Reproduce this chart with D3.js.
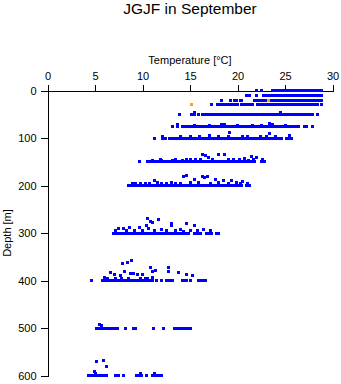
<!DOCTYPE html>
<html><head><meta charset="utf-8">
<script src="https://cdn.jsdelivr.net/npm/d3@7"></script>
<style>
body{margin:0;background:#fff}
svg{display:block}
text{font-family:"Liberation Sans",Arial,Helvetica,sans-serif;fill:#000}
</style>
</head><body><svg id="c" width="341" height="384"></svg>
<script>
const chartTitle = "JGJF in September";
const xLabel = "Temperature [°C]";
const yLabel = "Depth [m]";
const tempTicks = [0, 5, 10, 15, 20, 25, 30];
const depthTicks = [0, 100, 200, 300, 400, 500, 600];

// dense runs of observations: [depth, tMin, tMax]
const denseRuns = [
  [0, 23.5, 29.05],
  [10, 20.75, 21.4], [10, 22.55, 28.95],
  [20, 19.55, 20.05], [20, 20.2, 20.6], [20, 21.6, 23.1], [20, 23.35, 28.95],
  [30, 18.3, 19.8], [30, 20.3, 21.7], [30, 21.9, 28.55],
  [50, 16.2, 28.1],
  [75, 14.1, 26.55],
  [100, 13.05, 24.8], [100, 25.0, 25.85],
  [150, 10.4, 21.9], [150, 22.4, 23.0],
  [200, 8.4, 20.6],
  [300, 6.8, 15.0], [300, 15.3, 16.3], [300, 16.6, 17.4], [300, 17.6, 18.2],
  [400, 5.6, 11.2], [400, 12.4, 13.3], [400, 14.0, 14.8], [400, 15.7, 16.8],
  [500, 4.95, 7.5], [500, 13.2, 15.2],
  [600, 4.2, 6.4], [600, 7.05, 7.65], [600, 9.25, 10.0], [600, 10.9, 11.8]
];

// individual observations: [temperature, depth]
const bluePoints = [
  [21.95, 0], [22.55, 0],
  [21.95, 10],
  [18.3, 20], [19.3, 20],
  [17.3, 30], [17.85, 30], [18.1, 30], [20.05, 30], [28.85, 30],
  [13.9, 50], [15.2, 50], [15.5, 50], [15.85, 50], [28.4, 50], [15.5, 46], [24.5, 46],
  [13.2, 75], [13.7, 75], [13.7, 72], [27.0, 75], [27.3, 75], [27.85, 75],
  [18.3, 71], [18.6, 72], [21.6, 73], [23.4, 70], [23.7, 71],
  [15.5, 73], [17.0, 73], [20.0, 73], [22.5, 73], [25.0, 73],
  [11.3, 100], [12.1, 100], [12.1, 97], [12.45, 100], [12.8, 100],
  [19.2, 88], [23.4, 91], [25.5, 94], [16.0, 96], [17.1, 95], [22.4, 96], [20.5, 96],
  [14.0, 97], [15.0, 97], [18.0, 96], [19.0, 97], [21.0, 97], [23.0, 96], [24.0, 97],
  [9.7, 150], [16.3, 134], [16.6, 137], [16.9, 140], [18.0, 134], [18.6, 134],
  [20.7, 143], [21.5, 138], [21.7, 145], [21.2, 147], [14.6, 146], [15.0, 146],
  [13.2, 147], [19.0, 146], [12.0, 147],
  [11.0, 147], [11.9, 146], [13.5, 146], [14.2, 147], [15.6, 146], [16.1, 145],
  [17.4, 146], [19.6, 146], [20.2, 146], [22.0, 142], [22.6, 146],
  [20.95, 200], [21.25, 200], [14.3, 180], [14.6, 178], [16.3, 182], [16.8, 181],
  [16.5, 184], [17.7, 187], [18.5, 190], [20.5, 191], [11.3, 190], [12.0, 195],
  [15.5, 187], [19.4, 190], [9.3, 195], [10.3, 196], [13.0, 194],
  [8.9, 196], [9.8, 196], [10.7, 195], [11.6, 194], [12.5, 196], [13.5, 195],
  [14.0, 195], [15.0, 194], [15.9, 194], [17.2, 195], [18.0, 194], [19.0, 196],
  [19.9, 194], [20.3, 195], [21.1, 195],
  [7.5, 290], [8.0, 291], [8.6, 288], [9.7, 289], [10.4, 284], [10.5, 270],
  [10.8, 275], [11.0, 278], [11.7, 272], [13.1, 279], [13.1, 285], [14.6, 280],
  [15.5, 285], [12.0, 292], [14.0, 293], [16.4, 293], [17.2, 294],
  [7.2, 295], [8.3, 294], [9.2, 295], [10.0, 294], [10.6, 290], [11.3, 294],
  [12.5, 295], [13.5, 295], [14.3, 296], [15.0, 294], [15.8, 295],
  [4.6, 400], [11.5, 400], [12.05, 400], [15.05, 400],
  [7.9, 365], [8.4, 362], [8.85, 358], [6.6, 384], [7.0, 387], [7.7, 389],
  [8.1, 380], [8.7, 385], [9.1, 386], [9.5, 388], [10.0, 387], [10.8, 372],
  [11.1, 380], [11.35, 378], [12.7, 373], [12.75, 380], [13.8, 384], [14.6, 387],
  [15.3, 390], [6.0, 394], [7.2, 395], [10.5, 395],
  [6.3, 396], [7.8, 396], [8.5, 395], [9.8, 395], [10.3, 396], [11.0, 394],
  [8.25, 500], [9.0, 500], [9.25, 500], [11.15, 500], [12.25, 500], [5.5, 493], [5.7, 494],
  [8.03, 600], [10.37, 600], [12.05, 600],
  [5.2, 571], [5.9, 569], [6.25, 581], [4.95, 592], [5.05, 596], [9.75, 595], [11.3, 596]
];

const orangePoints = [[23.25, 20], [15.15, 30]];

const svg = d3.select("#c");
const x = d3.scaleLinear().domain([0, 30]).range([47.5, 332.5]);
const y = d3.scaleLinear().domain([0, 600]).range([90.5, 375.5]);
const S = 3;

svg.append("text").attr("x", 190).attr("y", 13.5).attr("text-anchor", "middle")
  .style("font-size", "15.5px").text(chartTitle);

svg.append("text").attr("x", 190).attr("y", 64).attr("text-anchor", "middle")
  .style("font-size", "11px").text(xLabel);

svg.append("text").attr("transform", "translate(11,233) rotate(-90)")
  .attr("text-anchor", "middle").style("font-size", "11px").text(yLabel);

const xAxis = svg.append("g").attr("transform", "translate(0,90.5)")
  .call(d3.axisTop(x).tickValues(tempTicks).tickSizeOuter(0).tickSize(6).tickPadding(5));
const yAxis = svg.append("g").attr("transform", "translate(47.5,0)")
  .call(d3.axisLeft(y).tickValues(depthTicks).tickSizeOuter(0).tickSize(7).tickPadding(4));
[xAxis, yAxis].forEach(g => {
  g.selectAll("text").style("font-size", "11px").attr("font-family", null);
  g.selectAll("path,line").attr("stroke", "#000").attr("shape-rendering", "crispEdges");
});

const marks = svg.append("g").attr("shape-rendering", "crispEdges");
marks.selectAll("rect.run").data(denseRuns).join("rect").attr("class", "run")
  .attr("x", d => x(d[1])).attr("width", d => x(d[2]) - x(d[1]))
  .attr("y", d => y(d[0]) - S / 2).attr("height", S).attr("fill", "#0000ff");
marks.selectAll("rect.pt").data(bluePoints).join("rect").attr("class", "pt")
  .attr("x", d => x(d[0]) - S / 2).attr("y", d => y(d[1]) - S / 2)
  .attr("width", S).attr("height", S).attr("fill", "#0000ff");
marks.selectAll("rect.or").data(orangePoints).join("rect").attr("class", "or")
  .attr("x", d => x(d[0]) - S / 2).attr("y", d => y(d[1]) - S / 2)
  .attr("width", S).attr("height", S).attr("fill", "#ffa500");
</script>
</body></html>
